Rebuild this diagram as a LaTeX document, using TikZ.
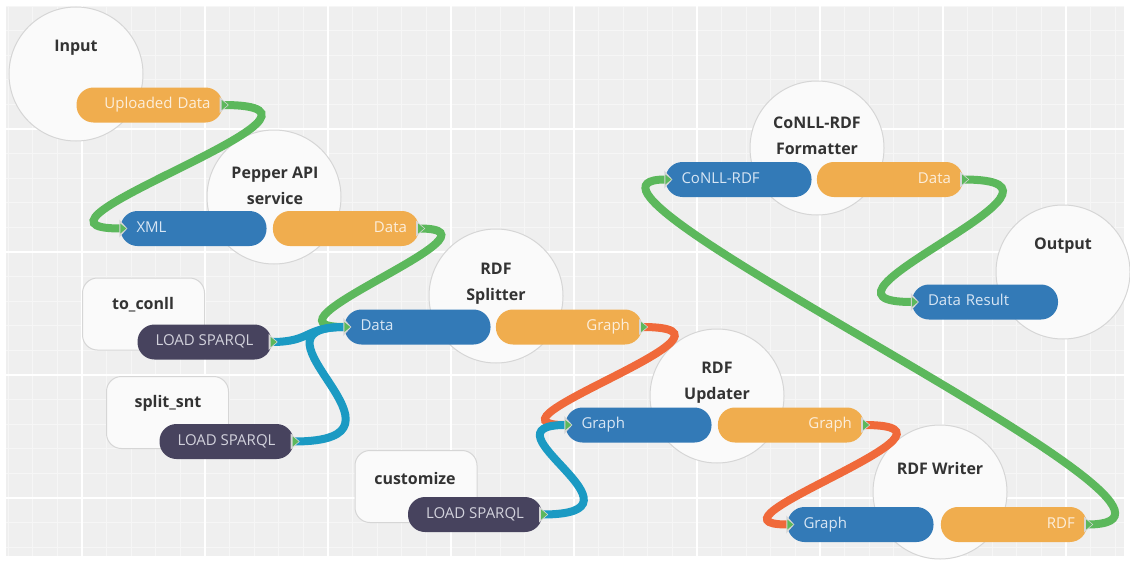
\documentclass[tikz,border=0pt]{standalone}
\usepackage{fontspec}
\setmainfont{Open Sans}
\usepackage{xcolor}
\usepackage{tikz}
\usetikzlibrary{positioning}

\definecolor{canvas}{HTML}{EFEFEF}
\definecolor{minorgrid}{HTML}{F6F6F6}
\definecolor{rimgray}{HTML}{D6D6D6}
\definecolor{blockwhite}{HTML}{FAFAFA}
\definecolor{titlegray}{HTML}{333333}
\definecolor{portblue}{HTML}{337AB7}
\definecolor{portorange}{HTML}{F0AD4E}
\definecolor{portdark}{HTML}{47435E}
\definecolor{inblue}{HTML}{D8E6F4}
\definecolor{outtext}{HTML}{FCEEDB}
\definecolor{darktext}{HTML}{D2D2DC}
\definecolor{wgreen}{HTML}{5CB85C}
\definecolor{wteal}{HTML}{1B9AC3}
\definecolor{worange}{HTML}{F0693A}

\pgfdeclarelayer{background}
\pgfdeclarelayer{wires}
\pgfsetlayers{background,wires,main}

\tikzstyle{block} = [circle, draw=rimgray, line width=1pt, fill=blockwhite,
minimum size=134pt, inner sep=0pt]
\tikzstyle{query} = [rectangle, rounded corners=15pt, draw=rimgray, line width=1pt,
fill=blockwhite, minimum width=122pt, minimum height=72pt]
\tikzstyle{title} = [font=\fontsize{16}{26}\selectfont\bfseries, text=titlegray, align=center]
\tikzstyle{port} = [rectangle, rounded corners=17pt, minimum height=35pt, inner ysep=0pt,
text height=10pt, text depth=3pt, font=\fontsize{15}{16}\selectfont]
\tikzstyle{inport} = [port, fill=portblue, text=inblue, text width=114pt, inner xsep=16pt, align=left]
\tikzstyle{outport} = [port, fill=portorange, text=outtext, text width=122pt, inner xsep=12pt, align=right]
\tikzstyle{loader} = [port, fill=portdark, text=darktext, minimum width=134pt, align=center]
\tikzstyle{wire} = [line width=8pt]

\begin{document}
\begin{tikzpicture}[x=1pt, y=-1pt]
    \useasboundingbox (0,0) rectangle (1130,562);

    \begin{pgfonlayer}{background}
        \fill[white] (0,0) rectangle (1130,562);
        \fill[canvas] (6,6) rectangle (1124,556);
        \begin{scope}
            \clip (6,6) rectangle (1124,556);
            \foreach \i in {0,...,46}
                \draw[minorgrid, line width=1pt] ({8.2+24.6*\i},6) -- ({8.2+24.6*\i},556);
            \foreach \j in {0,...,22}
                \draw[minorgrid, line width=1pt] (6,{6+24.6*\j}) -- (1124,{6+24.6*\j});
            \foreach \i in {0,...,8}
                \draw[white, line width=2.5pt] ({82+123*\i},6) -- ({82+123*\i},556);
            \foreach \j in {1,...,4}
                \draw[white, line width=2.5pt] (6,{6+123*\j}) -- (1124,{6+123*\j});
        \end{scope}

        % processing blocks
        \node[block] (input) at (76,74) {};
        \node[block] (pepper) at (274,197) {};
        \node[block] (splitter) at (496,296) {};
        \node[block] (updater) at (717,396) {};
        \node[block] (writer) at (940,492) {};
        \node[block] (formatter) at (817,148) {};
        \node[block] (output) at (1063,272) {};

        % sparql queries
        \node[query] (toconll) at (143.5,314) {};
        \node[query] (splitsnt) at (167.5,412.5) {};
        \node[query] (customize) at (416,486.5) {};

        \node[title] (inputT) at (76,48) {Input};
        \node[title] (pepperT) at (275,186) {Pepper API\\service};
        \node[title] (splitterT) at (496,284) {RDF\\Splitter};
        \node[title] (updaterT) at (717,383) {RDF\\Updater};
        \node[title] (writerT) at (940,468) {RDF Writer};
        \node[title] (formatterT) at (817,136) {CoNLL-RDF\\Formatter};
        \node[title] (outputT) at (1063,246) {Output};
        \node[title] (toconllT) at (143,305) {to\_conll};
        \node[title] (splitsntT) at (168,403) {split\_snt};
        \node[title] (customizeT) at (415,478) {customize};
    \end{pgfonlayer}

    % ports
    \node[outport] (upl) at (149.5,105) {Uploaded Data};
    \node[inport] (xml) at (193.5,228.5) {XML};
    \node[outport, right=6pt of xml] (ppdata) {Data};
    \node[inport] (spdata) at (417.5,327) {Data};
    \node[outport, right=5pt of spdata] (spgraph) {Graph};
    \node[inport] (upgraphin) at (638.5,425) {Graph};
    \node[outport, right=6pt of upgraphin] (upgraph) {Graph};
    \node[inport] (wrgraph) at (860.5,524.5) {Graph};
    \node[outport, right=7pt of wrgraph] (wrrdf) {RDF};
    \node[inport] (fmconll) at (738.5,179.5) {CoNLL-RDF};
    \node[outport, right=5pt of fmconll] (fmdata) {Data};
    \node[inport] (result) at (985,302) {Data Result};
    \node[loader] (q1) at (204.5,342) {LOAD SPARQL};
    \node[loader] (q2) at (226.5,441.5) {LOAD SPARQL};
    \node[loader] (q3) at (475,514.5) {LOAD SPARQL};

    \foreach \p in {upl,ppdata,spgraph,upgraph,wrrdf,fmdata,q1,q2,q3} {
        \fill[rimgray] ([shift={(-3,-8)}]\p.east) -- ([shift={(6,0)}]\p.east)
            -- ([shift={(-3,8)}]\p.east) -- cycle;
        \fill[wgreen] ([shift={(-1,-5)}]\p.east) -- ([shift={(5,0)}]\p.east)
            -- ([shift={(-1,5)}]\p.east) -- cycle;
    }
    \foreach \p in {xml,spdata,upgraphin,wrgraph,fmconll,result} {
        \fill[rimgray] ([shift={(-1,-9)}]\p.west) -- ([shift={(7,0)}]\p.west)
            -- ([shift={(-1,9)}]\p.west) -- cycle;
        \fill[wgreen] ([shift={(0,-5)}]\p.west) -- ([shift={(6,0)}]\p.west)
            -- ([shift={(0,5)}]\p.west) -- cycle;
    }

    \begin{pgfonlayer}{wires}
        \draw[wire, wgreen] (upl.east) .. controls +(160,0) and +(-130,0) .. (xml.west);
        \draw[wire, wgreen] (ppdata.east) .. controls +(100,0) and +(-100,0) .. (spdata.west);
        \draw[wire, wteal] (q1.east) .. controls +(40,0) and +(-40,0) .. (spdata.west);
        \draw[wire, wteal] (q2.east) .. controls +(140,0) and +(-110,0) .. (spdata.west);
        \draw[wire, worange] (spgraph.east) .. controls +(130,0) and +(-100,0) .. (upgraphin.west);
        \draw[wire, wteal] (q3.east) .. controls +(120,0) and +(-90,0) .. (upgraphin.west);
        \draw[wire, worange] (upgraph.east) .. controls +(130,0) and +(-100,0) .. (wrgraph.west);
        \draw[wire, wgreen] (wrrdf.east) .. controls +(180,0) and +(-150,0) .. (fmconll.west);
        \draw[wire, wgreen] (fmdata.east) .. controls +(150,0) and +(-130,0) .. (result.west);
    \end{pgfonlayer}
\end{tikzpicture}
\end{document}
